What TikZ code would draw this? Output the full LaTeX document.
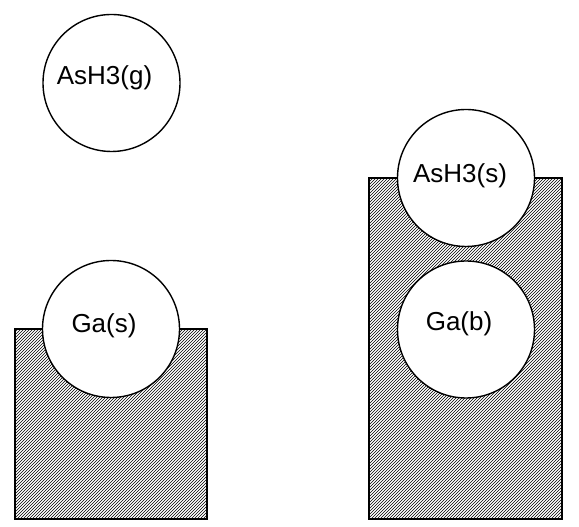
\documentclass[tikz,border=0pt]{standalone}
\usepackage{fontspec}
\setmainfont{Liberation Sans}
\usetikzlibrary{patterns}

\begin{document}
\begin{tikzpicture}[x=1pt,y=1pt,
        ball/.style={circle,draw,fill=white,line width=1.4pt,minimum size=137pt,inner sep=0pt},
        solid/.style={draw,line width=1.4pt,pattern=north east lines},
        lbl/.style={anchor=base,font=\fontsize{26}{31}\selectfont,inner sep=0pt}]
                \useasboundingbox (0,0) rectangle (579,527);
                \draw[solid] (15,8) rectangle (207,198);
                \draw[solid] (369,8) rectangle (562,349);
                \node[ball] (gas) at (111.5,444) {};
                \node[ball] (ads) at (466,349) {};
                \node[ball] (bulk) at (466,197.5) {};
                \node[ball] (surf) at (111,198) {};
                \node[lbl] (gastxt) at ([shift={(-7,-2)}]gas.center) {AsH3(g)};
                \node[lbl] (adstxt) at ([shift={(-6,-5)}]ads.center) {AsH3(s)};
                \node[lbl] (surftxt) at ([shift={(-7,-4)}]surf.center) {Ga(s)};
                \node[lbl] (bulktxt) at ([shift={(-7,-1)}]bulk.center) {Ga(b)};
            \end{tikzpicture}
\end{document}
